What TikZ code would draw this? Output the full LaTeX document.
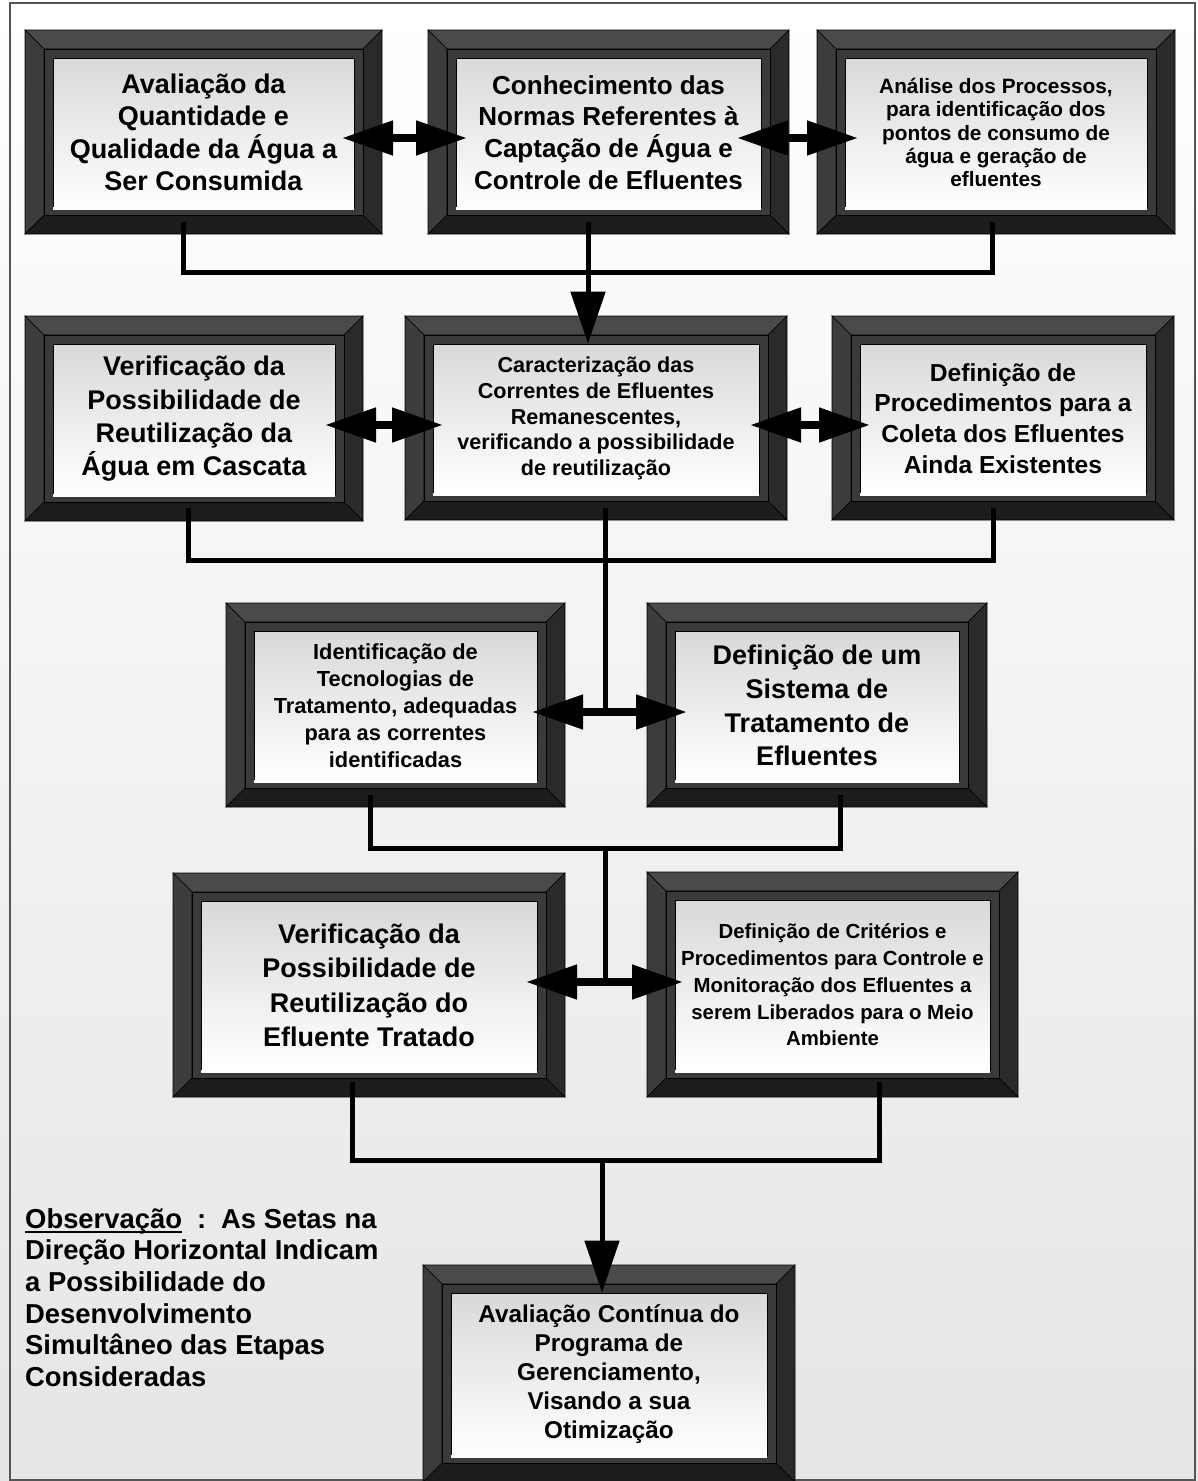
\documentclass[tikz,border=0pt]{standalone}
\usepackage{fontspec}
\setmainfont{Liberation Sans}[BoldFont={Liberation Sans Bold}]
\usetikzlibrary{arrows.meta}
\definecolor{bevT}{HTML}{4A4A4A}
\definecolor{bevL}{HTML}{3C3C3C}
\definecolor{bevR}{HTML}{2A2A2A}
\definecolor{bevB}{HTML}{1C1C1C}
\definecolor{bandc}{HTML}{3A3A3A}
\definecolor{borderc}{HTML}{555555}
\newlength\obsw
\newcommand\picfrm[8]{%
  \filldraw[bev, fill=bevT] (#2,#3) -- (#4,#3) -- ({#4-19},{#3+19}) -- ({#2+19},{#3+19}) -- cycle;
  \filldraw[bev, fill=bevL] (#2,#3) -- ({#2+19},{#3+19}) -- ({#2+19},{#5-19}) -- (#2,#5) -- cycle;
  \filldraw[bev, fill=bevR] (#4,#3) -- ({#4-19},{#3+19}) -- ({#4-19},{#5-19}) -- (#4,#5) -- cycle;
  \filldraw[bev, fill=bevB] (#2,#5) -- ({#2+19},{#5-19}) -- ({#4-19},{#5-19}) -- (#4,#5) -- cycle;
  \filldraw[bev, fill=bandc] ({#2+19},{#3+19}) rectangle ({#4-19},{#5-19});
  \node[panel, minimum width={(#4-#2-56)*1pt}, minimum height={(#5-#3-55)*1pt},
        font=\fontsize{#6}{#7}\selectfont\bfseries] (#1) at ({(#2+#4)/2},{(#3+#5+1)/2}) {#8};
  \draw[white, line width=2.5pt] ({#2+28},{#5-25.5}) -- ({#4-28},{#5-25.5});
}
\begin{document}
\begin{tikzpicture}[x=1pt, y=-1pt,
  bev/.style={draw=black, line width=0.6pt},
  panel/.style={draw=black, line width=0.8pt, top color=gray!30, bottom color=white,
                inner sep=0pt, align=center, text=black},
  conn/.style={line width=5pt, draw=black},
  dbl/.style={line width=8pt, draw=black,
              {Triangle[length=51pt,width=33pt]}-{Triangle[length=51pt,width=33pt]}},
  varrow/.style={line width=5pt, draw=black, -{Triangle[length=52pt,width=34pt]}},
  notetext/.style={inner sep=0pt, align=left, anchor=north west,
                   font=\fontsize{27.4}{31.7}\selectfont\bfseries}
]
\useasboundingbox (0,0) rectangle (1198,1481);
\shade[top color=white, bottom color=gray!20] (0,0) rectangle (1198,1481);
\draw[borderc, line width=1.2pt] (10,3) rectangle (1195,1480);

% Row 1
\picfrm{b1}{25}{30}{382}{234}{27}{32.5}{Avaliação da\\Quantidade e\\Qualidade da Água a\\Ser Consumida}
\picfrm{b2}{428}{30}{789}{234}{26}{31.7}{Conhecimento das\\Normas Referentes à\\Captação de Água e\\Controle de Efluentes}
\picfrm{b3}{817}{30}{1175}{234}{20.8}{23.3}{Análise dos Processos,\\para identificação dos\\pontos de consumo de\\água e geração de\\efluentes}
% Row 2
\picfrm{b4}{25}{316}{363}{521}{27}{33.3}{Verificação da\\Possibilidade de\\Reutilização da\\Água em Cascata}
\picfrm{b5}{405}{316}{787}{520}{21.6}{25.7}{Caracterização das\\Correntes de Efluentes\\Remanescentes,\\verificando a possibilidade\\de reutilização}
\picfrm{b6}{832}{316}{1174}{520}{24.6}{30.7}{Definição de\\Procedimentos para a\\Coleta dos Efluentes\\Ainda Existentes}
% Row 3
\picfrm{b7}{226}{603}{565}{807}{21.8}{27}{Identificação de\\Tecnologias de\\Tratamento, adequadas\\para as correntes\\identificadas}
\picfrm{b8}{647}{603}{987}{807}{27}{33.7}{Definição de um\\Sistema de\\Tratamento de\\Efluentes}
% Row 4
\picfrm{b9}{173}{873}{565}{1097}{27}{34.5}{Verificação da\\Possibilidade de\\Reutilização do\\Efluente Tratado}
\picfrm{b10}{647}{872}{1018}{1097}{20.4}{26.7}{Definição de Critérios e\\Procedimentos para Controle e\\Monitoração dos Efluentes a\\serem Liberados para o Meio\\Ambiente}
% Final
\picfrm{b11}{423}{1265}{795}{1482}{24.3}{29}{Avaliação Contínua do\\Programa de\\Gerenciamento,\\Visando a sua\\Otimização}

% Note
\node[notetext] (note) at (25,1208) {\settowidth{\obsw}{Observação}\rlap{\rule[-4.5pt]{\obsw}{2pt}}Observação\hspace{15pt}:\hspace{15pt}As Setas na\\Direção Horizontal Indicam\\a Possibilidade do\\Desenvolvimento\\Simultâneo das Etapas\\Consideradas};

% Connector coordinates
\coordinate (r1a) at (183,222);
\coordinate (r1b) at (992,222);
\coordinate (r1t) at (588,222);
\coordinate (r1m) at (588,272);
\coordinate (r2a) at (188,508);
\coordinate (r2b) at (993,508);
\coordinate (r2t) at (605,508);
\coordinate (r2m) at (605,560);
\coordinate (r3j) at (605,712);
\coordinate (r3a) at (370,795);
\coordinate (r3b) at (840,795);
\coordinate (r3m) at (605,848);
\coordinate (r4j) at (605,982);
\coordinate (r4a) at (352,1082);
\coordinate (r4b) at (879,1082);
\coordinate (r4m) at (602,1160);
\coordinate (a1l) at (342,138);
\coordinate (a1r) at (467,138);
\coordinate (a2l) at (737,138);
\coordinate (a2r) at (858,138);
\coordinate (a3l) at (325,425);
\coordinate (a3r) at (443,425);
\coordinate (a4l) at (750,425);
\coordinate (a4r) at (870,425);
\coordinate (a5l) at (532,712);
\coordinate (a5r) at (687,712);
\coordinate (a6l) at (526,982);
\coordinate (a6r) at (683,982);

% Connectors
\draw[conn] (r1a) |- (r1m) -| (r1b);
\draw[conn] (r1t) -- (r1m);
\draw[varrow] (r1m) -- (r1m |- b5.north);
\draw[dbl] (a1l) -- (a1r);
\draw[dbl] (a2l) -- (a2r);

\draw[conn] (r2a) |- (r2m) -| (r2b);
\draw[conn] (r2t) -- (r3j);
\draw[dbl] (a3l) -- (a3r);
\draw[dbl] (a4l) -- (a4r);
\draw[dbl] (a5l) -- (a5r);

\draw[conn] (r3a) |- (r3m) -| (r3b);
\draw[conn] (r3m) -- (r4j);
\draw[dbl] (a6l) -- (a6r);

\draw[conn] (r4a) |- (r4m) -| (r4b);
\draw[varrow] (r4m) -- (r4m |- b11.north);
\end{tikzpicture}
\end{document}
